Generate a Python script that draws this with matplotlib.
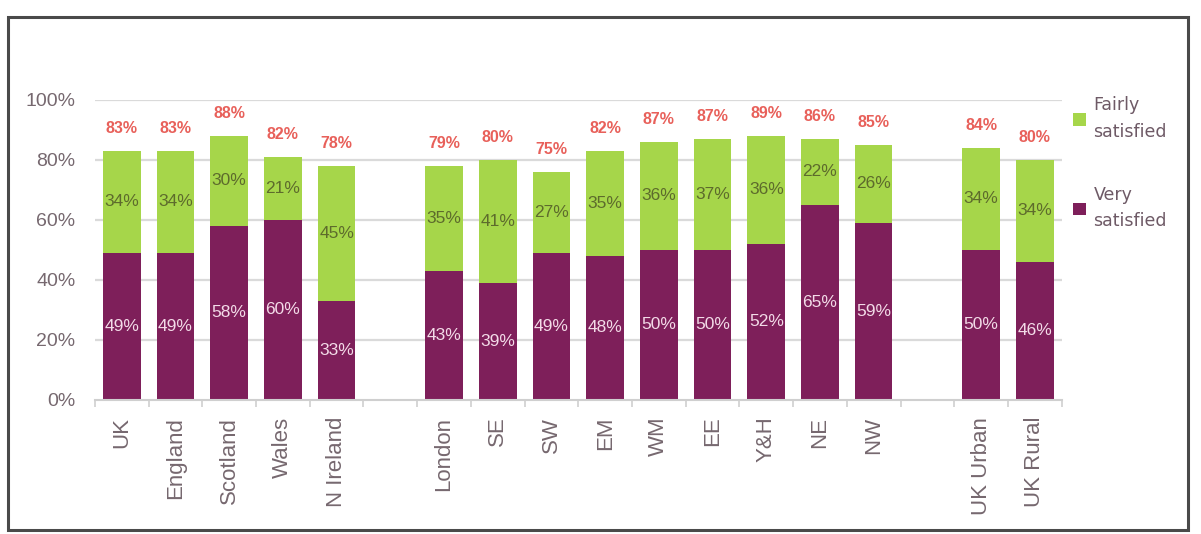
import matplotlib
matplotlib.use("Agg")
import matplotlib.pyplot as plt
from matplotlib.patches import Rectangle
import numpy as np

# Satisfaction by area (%), groups separated by a blank slot
categories = ["UK", "England", "Scotland", "Wales", "N Ireland",
              "London", "SE", "SW", "EM", "WM", "EE", "Y&H", "NE", "NW",
              "UK Urban", "UK Rural"]
very_satisfied = [49, 49, 58, 60, 33, 43, 39, 49, 48, 50, 50, 52, 65, 59, 50, 46]
fairly_satisfied = [34, 34, 30, 21, 45, 35, 41, 27, 35, 36, 37, 36, 22, 26, 34, 34]
total_satisfied = [83, 83, 88, 82, 78, 79, 80, 75, 82, 87, 87, 89, 86, 85, 84, 80]
slots = [0, 1, 2, 3, 4, 6, 7, 8, 9, 10, 11, 12, 13, 14, 16, 17]
y_ticks = [0, 20, 40, 60, 80, 100]

PURPLE = "#7e1f5a"
GREEN = "#a6d64a"
LABEL_RED = "#e8605a"
TEXT_GREY = "#76686f"

plt.rcParams["font.family"] = ["Liberation Sans", "DejaVu Sans"]

fig = plt.figure(figsize=(12.01, 5.34), dpi=100)
ax = fig.add_axes([0.079, 0.251, 0.805, 0.562])

x = np.array(slots, dtype=float)
width = 0.7

ax.set_axisbelow(True)
for t in y_ticks[1:]:
    ax.axhline(t, color="#dadada", lw=1.6, zorder=0)

b1 = ax.bar(x, very_satisfied, width, color=PURPLE, label="Very\nsatisfied", zorder=2)
b2 = ax.bar(x, fairly_satisfied, width, bottom=very_satisfied, color=GREEN,
            label="Fairly\nsatisfied", zorder=2)

for xi, v, f, tot in zip(x, very_satisfied, fairly_satisfied, total_satisfied):
    ax.text(xi, v / 2, f"{v}%", ha="center", va="center", fontsize=12.5,
            color="#f3dbe8", zorder=3)
    ax.text(xi, v + f / 2, f"{f}%", ha="center", va="center", fontsize=12.5,
            color="#5d6b2c", zorder=3)
    ax.annotate(f"{tot}%", (xi, v + f), xytext=(0, 16), textcoords="offset points",
                ha="center", va="center", fontsize=11.5, fontweight="bold",
                color=LABEL_RED, annotation_clip=False)

ax.set_xlim(-0.5, 17.5)
ax.set_ylim(0, 100)
ax.set_yticks(y_ticks)
ax.set_yticklabels([f"{t}%" for t in y_ticks], fontsize=14, color=TEXT_GREY)
ax.tick_params(axis="y", length=0, pad=14)

ax.set_xticks(x)
ax.set_xticklabels(categories, rotation=90, fontsize=16, color=TEXT_GREY)
ax.tick_params(axis="x", which="major", length=0, pad=12)
ax.set_xticks(np.arange(-0.5, 18.0, 1.0), minor=True)
ax.tick_params(axis="x", which="minor", length=5, color="#cfcfcf", width=1.2)

for side in ("top", "right", "left"):
    ax.spines[side].set_visible(False)
ax.spines["bottom"].set_color("#cfcfcf")
ax.spines["bottom"].set_linewidth(1.5)

leg = ax.legend(handles=[b2, b1], loc="upper left", bbox_to_anchor=(1.005, 1.035),
                frameon=False, handlelength=0.75, handleheight=0.75,
                handletextpad=0.4, labelspacing=2.6, borderaxespad=0,
                prop={"family": "DejaVu Sans", "size": 12.5})
for txt in leg.get_texts():
    txt.set_color("#6e5a66")
    txt.set_linespacing(1.6)

# outer frame around the chart
fig.patches.append(Rectangle((8 / 1201, 4 / 534), 1180 / 1201, 513 / 534,
                             transform=fig.transFigure, fill=False,
                             edgecolor="#4a4a4a", lw=2.2))

fig.savefig("out.png", dpi=100, facecolor="white")
